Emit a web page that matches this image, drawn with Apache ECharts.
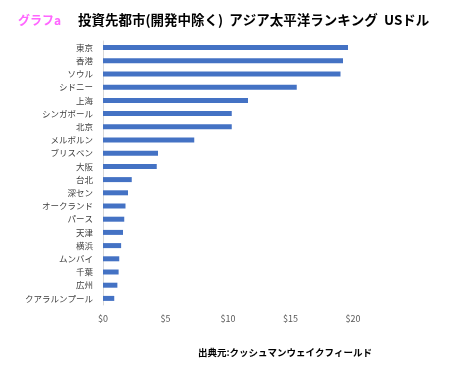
<!DOCTYPE html>
<html><head><meta charset="utf-8">
<script src="https://cdn.jsdelivr.net/npm/echarts@6/dist/echarts.min.js"></script>
<style>html,body{margin:0;padding:0;background:#fff}#c{width:454px;height:367px}</style>
</head><body><div id="c"></div>
<script>
const categories = ['東京','香港','ソウル','シドニー','上海','シンガポール','北京','メルボルン','ブリスベン','大阪','台北','深セン','オークランド','パース','天津','横浜','ムンバイ','千葉','広州','クアラルンプール'];
const values = [19.6,19.2,19.0,15.5,11.6,10.3,10.3,7.3,4.4,4.3,2.3,2.0,1.8,1.7,1.6,1.45,1.3,1.25,1.15,0.9];
const xTicks = [0,5,10,15,20];
const font = '"Noto Sans CJK JP", "Noto Sans", sans-serif';
const chart = echarts.init(document.getElementById('c'), null, {renderer:'canvas'});
chart.setOption({
  animation:false,
  textStyle:{fontFamily:font},
  title:[
    {text:'グラフa', left:13, top:9, textStyle:{color:'#ff66ff', fontSize:12, fontWeight:'bold', fontFamily:font}},
    {text:'投資先都市(開発中除く)  アジア太平洋ランキング  USドル', left:73, top:8, textStyle:{color:'#000', fontSize:13.5, fontWeight:'bold', fontFamily:font}},
    {text:'出典元:クッシュマンウェイクフィールド', left:193, top:343, textStyle:{color:'#000', fontSize:9.5, fontWeight:'bold', fontFamily:font}}
  ],
  grid:{left:103, right:101, top:41, bottom:62, containLabel:false},
  xAxis:{type:'value', min:xTicks[0], max:xTicks[xTicks.length-1], interval:5,
    axisLine:{show:false}, axisTick:{show:false}, splitLine:{show:false},
    axisLabel:{color:'#595959', fontSize:9, margin:9, formatter:v=>'$'+v}},
  yAxis:{type:'category', data:categories, inverse:true,
    axisLine:{show:true, lineStyle:{color:'#d9d9d9'}}, axisTick:{show:false},
    axisLabel:{color:'#404040', fontSize:8.5, margin:10}},
  series:[{type:'bar', data:values, barWidth:5, itemStyle:{color:'#4472c4'}}]
});
</script></body></html>
